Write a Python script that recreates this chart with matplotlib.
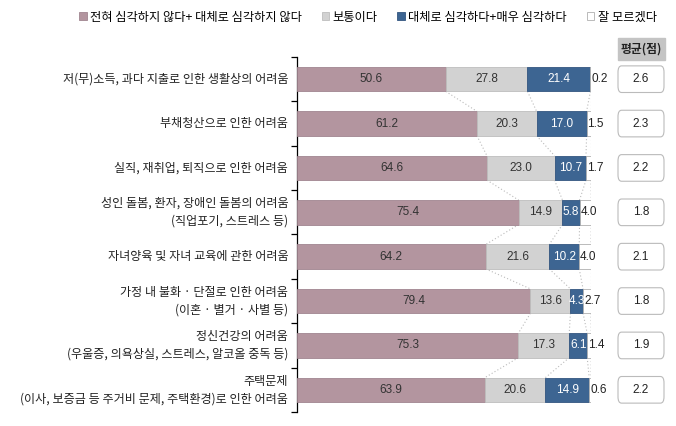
import matplotlib
matplotlib.use("Agg")
import matplotlib.pyplot as plt
from matplotlib.patches import FancyBboxPatch, Patch
import numpy as np

plt.rcParams['font.family'] = ['Noto Sans CJK KR', 'DejaVu Sans']

categories = [
    "저(무)소득, 과다 지출로 인한 생활상의 어려움",
    "부채청산으로 인한 어려움",
    "실직, 재취업, 퇴직으로 인한 어려움",
    "성인 돌봄, 환자, 장애인 돌봄의 어려움\n(직업포기, 스트레스 등)",
    "자녀양육 및 자녀 교육에 관한 어려움",
    "가정 내 불화 · 단절로 인한 어려움\n(이혼 · 별거 · 사별 등)",
    "정신건강의 어려움\n(우울증, 의욕상실, 스트레스, 알코올 중독 등)",
    "주택문제\n(이사, 보증금 등 주거비 문제, 주택환경)로 인한 어려움",
]
not_serious = [50.6, 61.2, 64.6, 75.4, 64.2, 79.4, 75.3, 63.9]
neutral = [27.8, 20.3, 23.0, 14.9, 21.6, 13.6, 17.3, 20.6]
serious = [21.4, 17.0, 10.7, 5.8, 10.2, 4.3, 6.1, 14.9]
dont_know = [0.2, 1.5, 1.7, 4.0, 4.0, 2.7, 1.4, 0.6]
averages = [2.6, 2.3, 2.2, 1.8, 2.1, 1.8, 1.9, 2.2]
series_names = ["전혀 심각하지 않다+ 대체로 심각하지 않다", "보통이다",
                "대체로 심각하다+매우 심각하다", "잘 모르겠다"]
avg_header = "평균(점)"

colors = ["#B3959F", "#D2D2D2", "#3D6592", "#FFFFFF"]
edges = ["#A08590", "#BDBDBD", "#335580", "#B0B0B0"]
txt_colors = ["#333333", "#333333", "#FFFFFF", "#222222"]
num_font = "Liberation Sans"

W, H = 676, 426
fig = plt.figure(figsize=(W / 100, H / 100), dpi=100)
ax_left, ax_right, ax_top, ax_bot = 297, 591, 57, 412
ax = fig.add_axes([ax_left / W, 1 - ax_bot / H, (ax_right - ax_left) / W, (ax_bot - ax_top) / H])

n = len(categories)
y = np.arange(n)
bar_h = 0.55
data = [not_serious, neutral, serious, dont_know]
left = np.zeros(n)
cums = [left.copy()]
for k, vals in enumerate(data):
    vals = np.array(vals)
    ax.barh(y, vals, left=left, height=bar_h, color=colors[k], edgecolor=edges[k],
            linewidth=0.6, zorder=3)
    for i in range(n):
        v = vals[i]
        if k < 3:
            ax.text(left[i] + v / 2, y[i], f"{v:.1f}", ha="center", va="center",
                    fontsize=8.5, color=txt_colors[k], zorder=5, family=num_font)
        else:
            ax.text(left[i] + 0.3, y[i], f"{v:.1f}", ha="left", va="center",
                    fontsize=8.5, color=txt_colors[k], zorder=5, family=num_font)
    left = left + vals
    cums.append(left.copy())

# dotted series connectors
for c in cums[1:]:
    for i in range(n - 1):
        ax.plot([c[i], c[i + 1]], [y[i] + bar_h / 2, y[i + 1] - bar_h / 2],
                color="#BBBBBB", linestyle=(0, (1, 2)), linewidth=0.8, zorder=1)

ax.set_xlim(0, 100)
ax.set_ylim(n - 0.5, -0.5)
for s in ["top", "right", "bottom"]:
    ax.spines[s].set_visible(False)
ax.spines["left"].set_linewidth(0.9)
ax.set_xticks([])
ax.set_yticks(np.arange(-0.5, n, 1.0))
ax.set_yticklabels([])
ax.tick_params(axis="y", direction="out", length=4, width=0.9)

for i, c in enumerate(categories):
    ax.text(-3.0, y[i], c, ha="right", va="center", fontsize=8.7, color="#222222",
            multialignment="right", linespacing=1.45)

# averages boxes
px = 100 / (ax_right - ax_left)
bx0, bx1 = (618 - ax_left) * px, (664 - ax_left) * px
for i, a in enumerate(averages):
    box = FancyBboxPatch((bx0, y[i] - 0.3), bx1 - bx0, 0.6,
                         boxstyle="round,pad=0,rounding_size=1.2",
                         facecolor="white", edgecolor="#BBBBBB", linewidth=0.8,
                         clip_on=False, mutation_aspect=0.12)
    ax.add_patch(box)
    ax.text((bx0 + bx1) / 2, y[i], f"{a:.1f}", ha="center", va="center",
            fontsize=8.5, color="#222222", family=num_font, clip_on=False)

hx0, hx1 = 618 / W, 665 / W
hy0, hy1 = 1 - 60 / H, 1 - 38 / H
fig.patches.append(plt.Rectangle((hx0, hy0), hx1 - hx0, hy1 - hy0, transform=fig.transFigure,
                                 facecolor="#C4C4C4", edgecolor="#C4C4C4"))
fig.text((hx0 + hx1) / 2, (hy0 + hy1) / 2, avg_header, ha="center", va="center",
         fontsize=8.5, fontweight="bold", color="#222222")

handles = [Patch(facecolor=colors[k], edgecolor=edges[k], linewidth=0.6) for k in range(4)]
fig.legend(handles, series_names, loc="center", bbox_to_anchor=(368 / W, 1 - 17 / H),
           ncol=4, frameon=False, fontsize=8.8, handlelength=0.6, handleheight=0.6,
           handletextpad=0.3, columnspacing=1.6)

fig.savefig("out.png", dpi=100)
